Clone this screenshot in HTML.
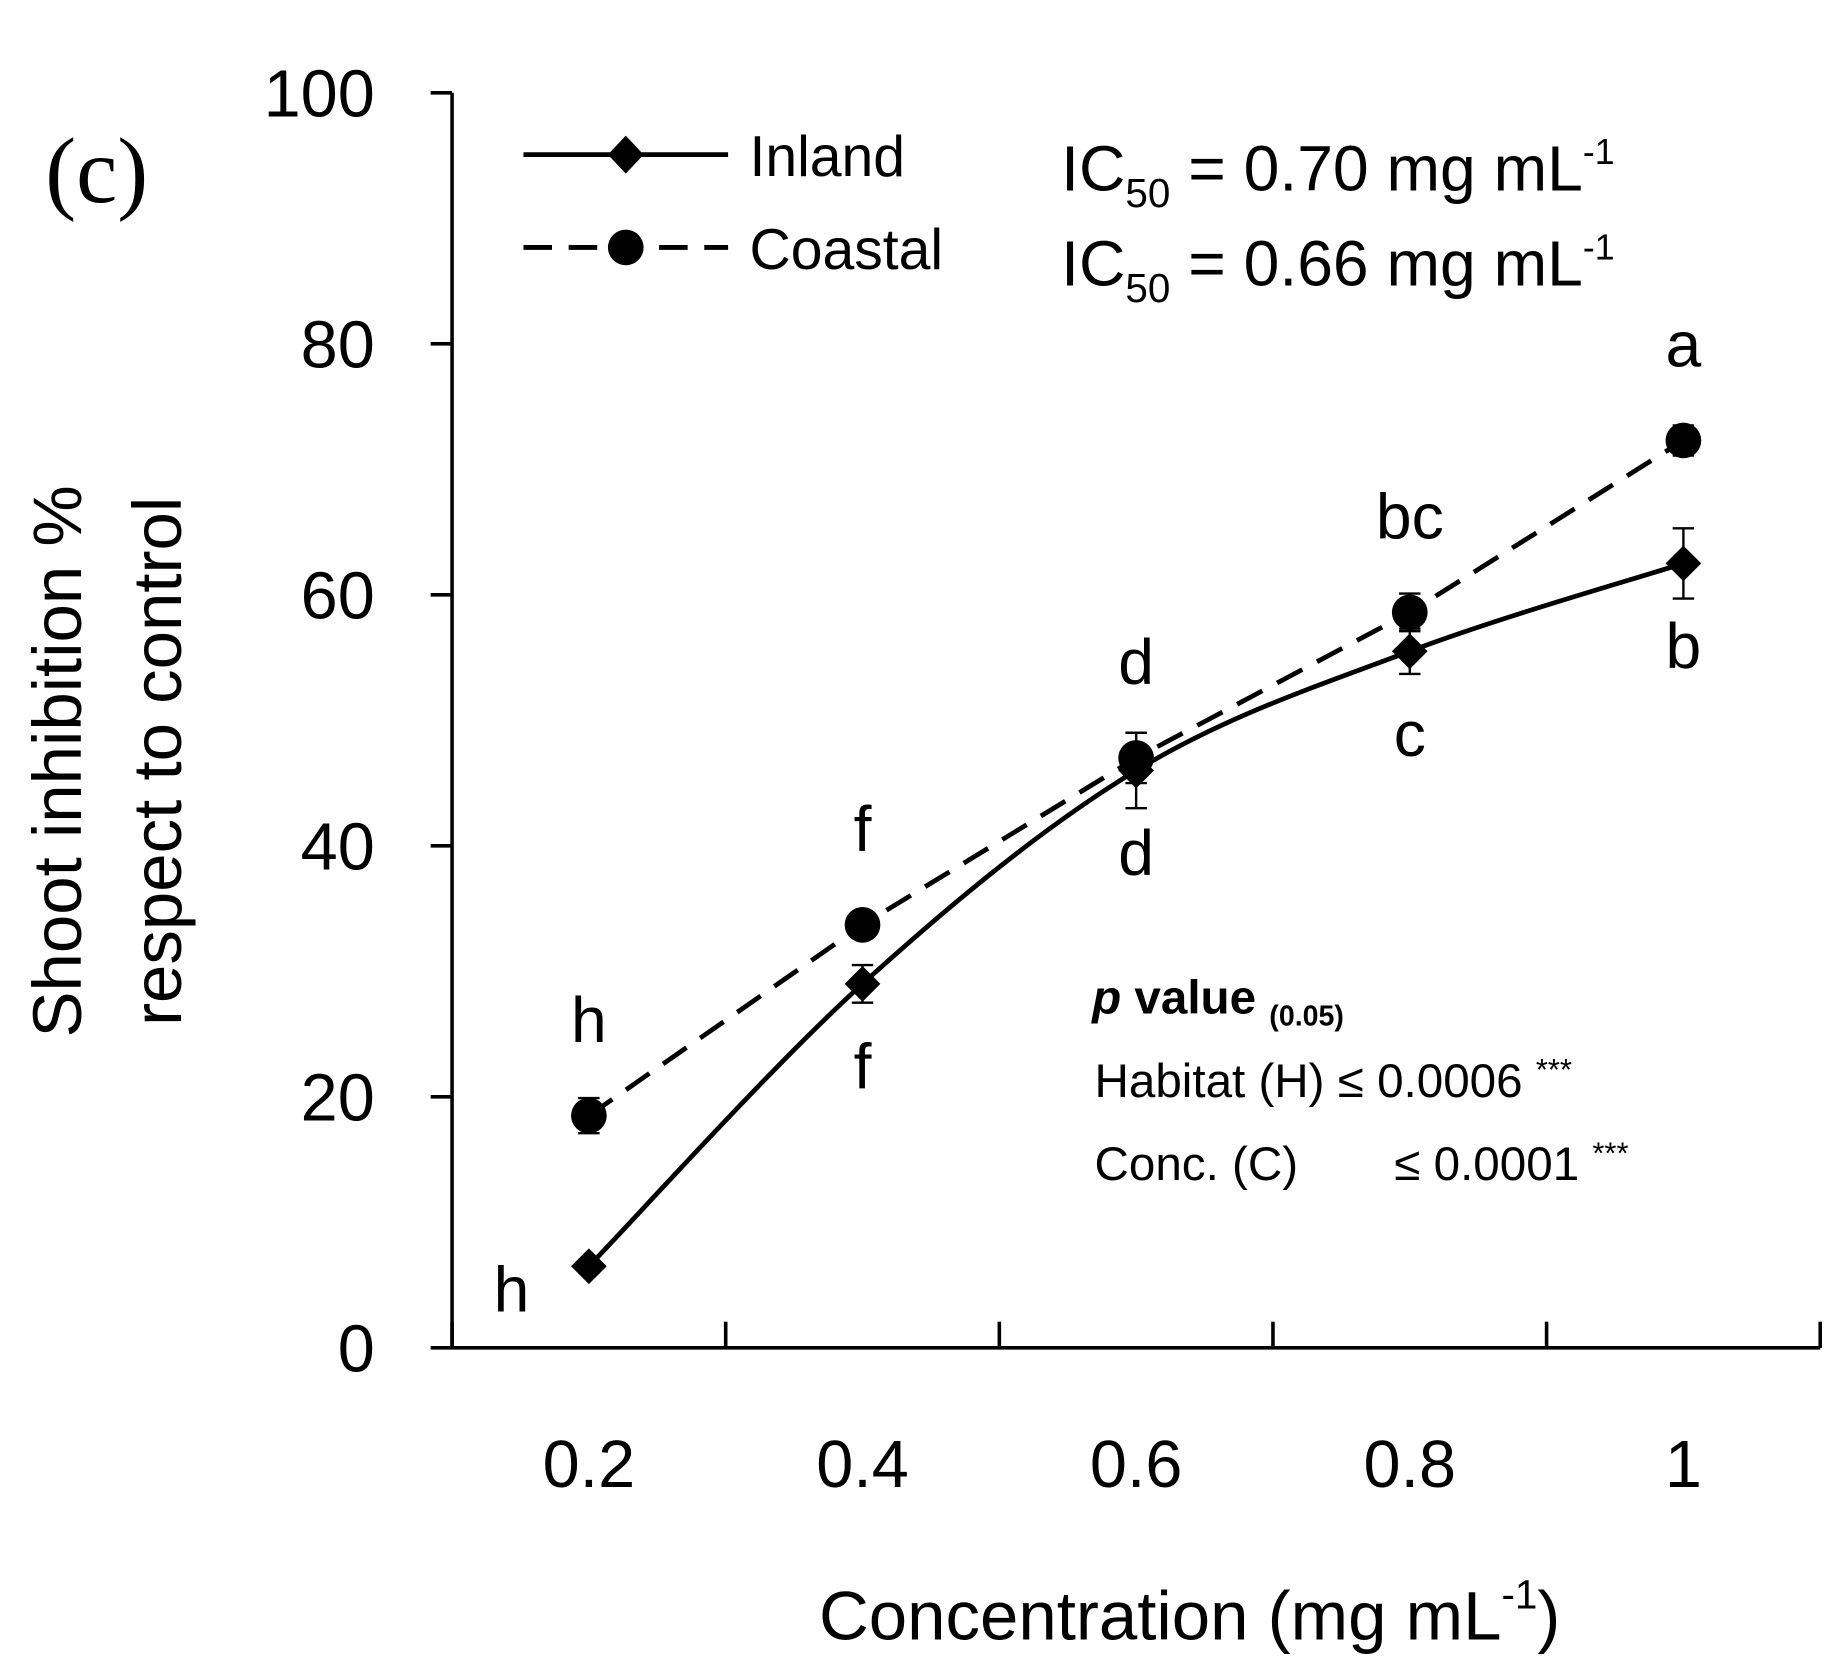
<!DOCTYPE html>
<html><head><meta charset="utf-8"><style>
html,body{margin:0;padding:0;background:#fff;}
svg{display:block;font-family:"Liberation Sans",sans-serif;}
</style></head><body>
<svg id="chart" width="1844" height="1660" viewBox="0 0 1550 1395.4" preserveAspectRatio="none" xmlns="http://www.w3.org/2000/svg">
<g id="axes"></g>
<g id="series"></g>
<g id="labels"></g>
<text x="38" y="170" font-family="Liberation Serif,serif" font-size="78">(c)</text>
<g>
 <line x1="440" y1="130" x2="612" y2="130" stroke="#000" stroke-width="4"/>
 <path d="M526 114 L541 130 L526 146 L511 130 Z" fill="#000"/>
 <text x="630" y="148" font-size="48">Inland</text>
 <line x1="440" y1="208" x2="612" y2="208" stroke="#000" stroke-width="4" stroke-dasharray="24,14"/>
 <circle cx="526" cy="208" r="15" fill="#000"/>
 <text x="630" y="226" font-size="48">Coastal</text>
</g>
<text x="892" y="160" font-size="54">IC<tspan font-size="34" dy="14">50</tspan><tspan dy="-14"> = 0.70 mg mL</tspan><tspan font-size="30" dy="-22">-1</tspan></text>
<text x="892" y="240" font-size="54">IC<tspan font-size="34" dy="14">50</tspan><tspan dy="-14"> = 0.66 mg mL</tspan><tspan font-size="30" dy="-22">-1</tspan></text>
<g font-size="40">
 <text x="918" y="852" font-weight="bold"><tspan font-style="italic">p</tspan> value <tspan font-size="24" dy="10">(0.05)</tspan></text>
 <text x="920" y="922">Habitat (H) ≤ 0.0006 <tspan font-size="26" dy="-14">***</tspan></text>
 <text x="920" y="992">Conc. (C) <tspan x="1172">≤ 0.0001 </tspan><tspan font-size="26" dy="-14">***</tspan></text>
</g>
<text x="1000" y="1378" text-anchor="middle" font-size="58">Concentration (mg mL<tspan font-size="34" dy="-26">-1</tspan><tspan dy="26">)</tspan></text>
<g font-size="58" text-anchor="middle">
 <text transform="translate(68,640) rotate(-90)">Shoot  inhibition %</text>
 <text transform="translate(152,640) rotate(-90)">respect to control</text>
</g>
</svg>
<script>
var categories=["0.2","0.4","0.6","0.8","1"];
var inland=[6.5,29,46,55.5,62.5];
var inlandErr=[0.5,1.5,3,1.8,2.8];
var coastal=[18.5,33.7,47,58.6,72.3];
var coastalErr=[1.4,0.8,2,1.5,1.2];
var coastalLetters=["h","f","d","bc","a"];
var inlandLetters=["h","f","d","c","b"];
var yTicks=[0,20,40,60,80,100];
var NS="http://www.w3.org/2000/svg";
var X0=380,X1=1530,Y0=1133,Y1=78;
var step=(X1-X0)/categories.length;
function xs(i){return X0+step*(i+0.5);}
function ys(v){return Y0-(v/100)*(Y0-Y1);}
function mk(t,a,p){var e=document.createElementNS(NS,t);for(var k in a)e.setAttribute(k,a[k]);p.appendChild(e);return e;}
var ax=document.getElementById('axes'),se=document.getElementById('series'),lb=document.getElementById('labels');
var yl=mk('line',{x1:X0,y1:Y1,x2:X0,y2:Y0,stroke:'#000','stroke-width':3},ax);


var xl=mk('line',{x1:X0,y1:Y0,x2:X1,y2:Y0,stroke:'#000','stroke-width':3},ax);


yTicks.forEach(function(v){
 mk('line',{x1:X0-18,y1:ys(v),x2:X0,y2:ys(v),stroke:'#000','stroke-width':3},ax);
 var t=mk('text',{x:315,y:ys(v)+20,'text-anchor':'end','font-size':56},ax);
 t.textContent=v;
 
 
});
for(var i=0;i<=categories.length;i++){var x=X0+step*i;mk('line',{x1:x,y1:Y0-22,x2:x,y2:Y0,stroke:'#000','stroke-width':3},ax);}
categories.forEach(function(c,i){
 var t=mk('text',{x:xs(i),y:1250,'text-anchor':'middle','font-size':56},ax);
 t.textContent=c;
 
 
});
var cp=coastal.map(function(v,i){return [xs(i),ys(v)];});
var cl=mk('polyline',{points:cp.map(function(p){return p.join(',');}).join(' '),fill:'none',stroke:'#000','stroke-width':4,'stroke-dasharray':'24,14'},se);


var ip=inland.map(function(v,i){return [xs(i),ys(v)];});
var d='M'+ip[0].join(',');
for(var j=0;j<ip.length-1;j++){var p0=ip[Math.max(0,j-1)],p1=ip[j],p2=ip[j+1],p3=ip[Math.min(ip.length-1,j+2)];
 d+=' C'+(p1[0]+(p2[0]-p0[0])/6)+','+(p1[1]+(p2[1]-p0[1])/6)+' '+(p2[0]-(p3[0]-p1[0])/6)+','+(p2[1]-(p3[1]-p1[1])/6)+' '+p2[0]+','+p2[1];}
var il=mk('path',{d:d,fill:'none',stroke:'#000','stroke-width':4},se);


function err(i,v,e){var x=xs(i);mk('line',{x1:x,y1:ys(v+e),x2:x,y2:ys(v-e),stroke:'#000','stroke-width':2},se);
 mk('line',{x1:x-9,y1:ys(v+e),x2:x+9,y2:ys(v+e),stroke:'#000','stroke-width':2},se);
 mk('line',{x1:x-9,y1:ys(v-e),x2:x+9,y2:ys(v-e),stroke:'#000','stroke-width':2},se);}
inland.forEach(function(v,i){err(i,v,inlandErr[i]);var x=xs(i),y=ys(v);
 var m=mk('path',{d:'M'+x+' '+(y-15)+' L'+(x+15)+' '+y+' L'+x+' '+(y+15)+' L'+(x-15)+' '+y+' Z',fill:'#000'},se);
 
 
 var t=mk('text',{x:i==0?x-65:x,y:i==0?y+38:y+88,'text-anchor':'middle','font-size':54},lb);
 t.textContent=inlandLetters[i];
 
 });
coastal.forEach(function(v,i){err(i,v,coastalErr[i]);var x=xs(i),y=ys(v);
 var m=mk('circle',{cx:x,cy:y,r:15,fill:'#000'},se);
 
 
 var t=mk('text',{x:x,y:y-62,'text-anchor':'middle','font-size':54},lb);
 t.textContent=coastalLetters[i];
 
 });
</script>
</body></html>
